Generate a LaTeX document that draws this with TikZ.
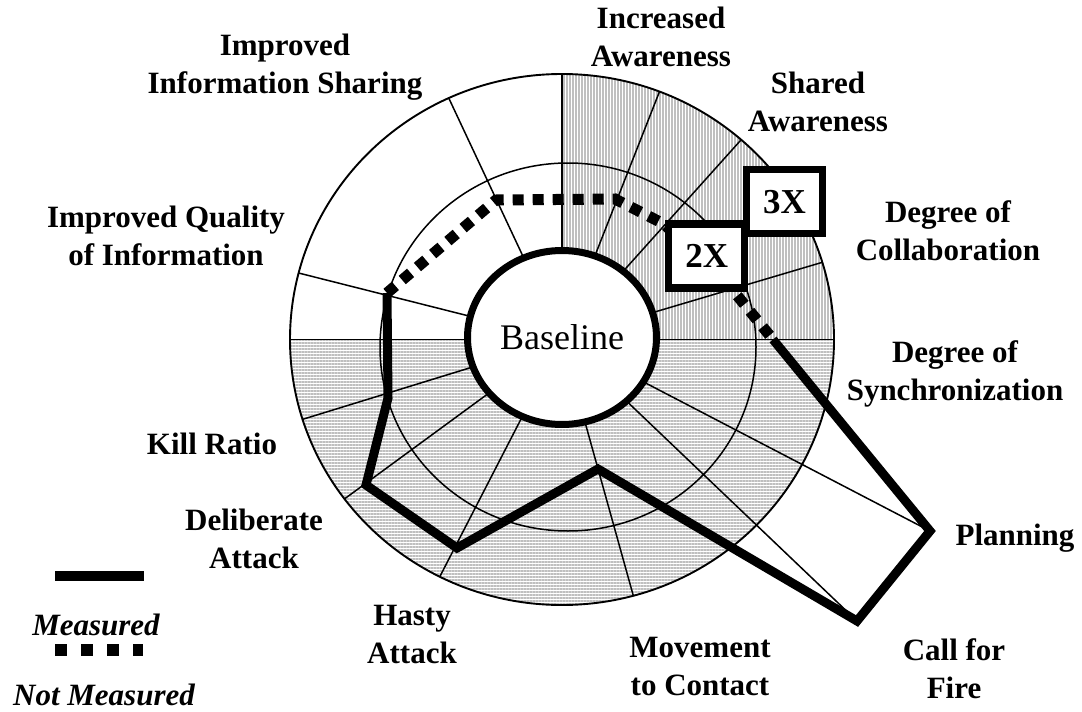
\documentclass[tikz,border=0pt]{standalone}
\usepackage{fontspec}
\setmainfont{Liberation Serif}
\usepackage{tikz}
\usetikzlibrary{calc,shapes.geometric,patterns.meta}
\colorlet{hatch}{gray!50}

\begin{document}
\begin{tikzpicture}[
  x=1pt, y=-1pt,
  lbl/.style={align=center, anchor=north, inner sep=0pt, font=\fontsize{31}{38}\selectfont\bfseries},
  key/.style={lbl, font=\fontsize{31}{38}\selectfont\bfseries\itshape},
  axis/.style={line width=1.5pt},
  ring/.style={line width=1.9pt},
  measured/.style={line width=9pt, line join=miter},
  notmeasured/.style={line width=11pt, dash pattern=on 11pt off 9pt},
  factor/.style={rectangle, draw, line width=7.5pt, fill=white, inner sep=0pt,
    minimum width=76pt, minimum height=64pt, font=\fontsize{35}{40}\selectfont\bfseries}
  ]
\useasboundingbox (0,0) rectangle (1082,712);
\coordinate (C) at (562,339.5);

\begin{scope}
  \clip (C) ellipse[x radius=272, y radius=265.5];
  \fill[pattern={Lines[angle=90,distance=3pt,line width=1.1pt]}, pattern color=hatch]
    (562,60) rectangle (840,339.5);
  \fill[pattern={Lines[angle=0,distance=3pt,line width=1.1pt]}, pattern color=hatch]
    (280,339.5) rectangle (840,610);
\end{scope}

\draw[axis] (568,347) ellipse[x radius=188, y radius=184];

% data points
\coordinate (v-iq) at (387,293);
\coordinate (v-iis) at (496,200);
\coordinate (v-ia) at (615,199);
\coordinate (v-sa) at (664,224);
\coordinate (v-doc) at (731,288);
\coordinate (v-dos) at (773,339.5);
\coordinate (v-plan) at (930,531);
\coordinate (v-cff) at (857,621);
\coordinate (v-mtc) at (598,469);
\coordinate (v-ha) at (457,548);
\coordinate (v-da) at (366,485);
\coordinate (v-kr) at (388,398);

\foreach \n/\a in {top/-90, iis/-114.6, ia/-69, sa/-48.8, doc/-16.9, dos/0,
                   mtc/74.8, ha/116.7, da/143.1, kr/162.5, left/180, iq/-165.5}
{
  \coordinate (end-\n) at ($(C)+(\a:272 and 265.5)$);
  \draw[axis] (C) -- (end-\n);
}
\draw[axis] (C) -- (v-plan);
\draw[axis] (C) -- (v-cff);

\draw[ring] (C) ellipse[x radius=272, y radius=265.5];

\node[ellipse, draw, fill=white, line width=7pt, inner sep=0pt,
  minimum width=189pt, minimum height=174pt,
  font=\fontsize{36}{40}\selectfont] (base) at (562,337.5) {Baseline};

\draw[notmeasured] (v-iq) -- (v-iis) -- (v-ia) -- (v-sa) -- (v-doc) -- (v-dos);
\draw[measured] (v-dos) -- (v-plan) -- (v-cff) -- (v-mtc) -- (v-ha)
  -- (v-da) -- (v-kr) -- (v-iq);

\node[factor] (x3) at (784.4,201.7) {3X};
\node[factor] (x2) at (706.7,255.9) {2X};

\node[lbl] (l-iis) at (285,33.5) {Improved\\Information Sharing};
\node[lbl] (l-ia) at (661,6.5) {Increased\\Awareness};
\node[lbl] (l-sa) at (818,71.5) {Shared\\Awareness};
\node[lbl] (l-doc) at (948,200) {Degree of\\Collaboration};
\node[lbl] (l-dos) at (955,340) {Degree of\\Synchronization};
\node[lbl] (l-plan) at (1015,523.5) {Planning};
\node[lbl] (l-cff) at (954,638.5) {Call for\\Fire};
\node[lbl] (l-mtc) at (700,636.5) {Movement\\to Contact};
\node[lbl] (l-ha) at (412,605) {Hasty\\Attack};
\node[lbl] (l-da) at (254,508.5) {Deliberate\\Attack};
\node[lbl] (l-kr) at (212,432.5) {Kill Ratio};
\node[lbl] (l-iq) at (166,205.5) {Improved Quality\\of Information};

% legend
\coordinate (m-a) at (55,575.7);
\coordinate (m-b) at (144,575.7);
\draw[line width=10pt] (m-a) -- (m-b);
\node[key] (k-m) at (96,614) {Measured};
\coordinate (n-a) at (55,650.3);
\coordinate (n-b) at (143.3,650.3);
\draw[line width=12.3pt, dash pattern=on 11.7pt off 14.3pt] (n-a) -- (n-b);
\node[key] (k-n) at (104,684) {Not Measured};
\end{tikzpicture}
\end{document}
